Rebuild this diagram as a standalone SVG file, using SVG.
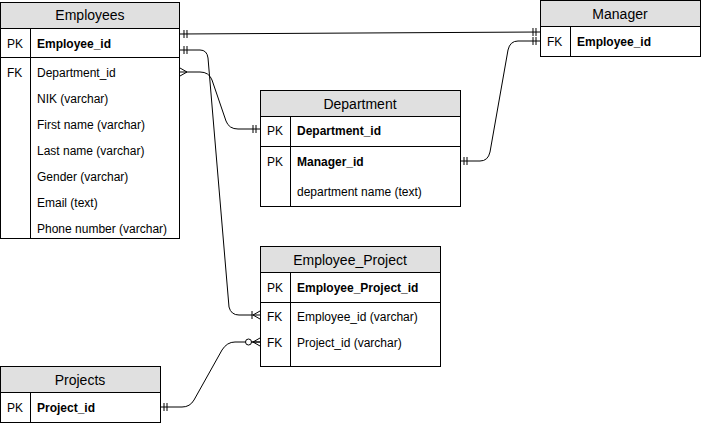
<svg xmlns="http://www.w3.org/2000/svg" width="701" height="423" viewBox="0 0 701 423">
<style>
.box{fill:#ffffff;stroke:#000;stroke-width:1}
.hdr{fill:#e0e0e0;stroke:#000;stroke-width:1}
.ln{stroke:#000;stroke-width:1;fill:none}
.t{font-family:"Liberation Sans",Arial,Helvetica,sans-serif;font-size:12px;fill:#000}
.b{font-weight:bold}
.title{font-family:"Liberation Sans",Arial,Helvetica,sans-serif;font-size:14px;fill:#000;text-anchor:middle}
.con{stroke:#000;stroke-width:1;fill:none}
</style>
<defs>
<marker id="one" markerUnits="userSpaceOnUse" markerWidth="20" markerHeight="20" viewBox="-15 -10 20 20" refX="0" refY="0" orient="auto-start-reverse">
<path d="M-4,-4 V4 M-7,-4 V4" stroke="#000" stroke-width="1" fill="none"/>
</marker>
<marker id="many" markerUnits="userSpaceOnUse" markerWidth="20" markerHeight="20" viewBox="-15 -10 20 20" refX="0" refY="0" orient="auto-start-reverse">
<path d="M-7,0 L0,-4 M-7,0 L0,4" stroke="#000" stroke-width="1" fill="none"/>
</marker>
<marker id="oneMany" markerUnits="userSpaceOnUse" markerWidth="20" markerHeight="20" viewBox="-15 -10 20 20" refX="0" refY="0" orient="auto-start-reverse">
<path d="M-7,0 L0,-4 M-7,0 L0,4 M-8,-4 V4" stroke="#000" stroke-width="1" fill="none"/>
</marker>
<marker id="zeroMany" markerUnits="userSpaceOnUse" markerWidth="20" markerHeight="20" viewBox="-18 -10 20 20" refX="0" refY="0" orient="auto-start-reverse">
<path d="M-8,0 L0,0 M-7,0 L0,-4 M-7,0 L0,4" stroke="#000" stroke-width="1" fill="none"/>
<circle cx="-11.5" cy="0" r="3" fill="#fff" stroke="#000" stroke-width="1"/>
</marker>
</defs>

<g id="connectors">
<path class="con" d="M180,34 L540,32" marker-start="url(#one)" marker-end="url(#one)"/>
<path class="con" d="M180,50 L200,50 Q207,50 208,58 L229,307 Q231,315 239,315 L260,315" marker-start="url(#one)" marker-end="url(#oneMany)"/>
<path class="con" d="M180,72 L200,72 Q209,72 212,80 L226,121 Q229,129 238,129 L260,129" marker-start="url(#many)" marker-end="url(#one)"/>
<path class="con" d="M460,161 L480,161 Q488,161 490,152 L508,50 Q510,41 518,41 L540,41" marker-start="url(#one)" marker-end="url(#one)"/>
<path class="con" d="M160,407 L182,407 Q190,407 194,400 L222,350 Q227,342 235,342 L260,342" marker-start="url(#one)" marker-end="url(#zeroMany)"/>
</g>

<g id="employees">
<rect class="box" x="0.5" y="2.5" width="179" height="236"/>
<rect class="hdr" x="0.5" y="2.5" width="179" height="26"/>
<line class="ln" x1="0.5" y1="57.5" x2="179.5" y2="57.5"/>
<line class="ln" x1="30.5" y1="28.5" x2="30.5" y2="238.5"/>
<text class="title" x="90" y="20">Employees</text>
<text class="t" x="7" y="48">PK</text>
<text class="t b" x="37" y="48">Employee_id</text>
<text class="t" x="7" y="77">FK</text>
<text class="t" x="37" y="77">Department_id</text>
<text class="t" x="37" y="103">NIK (varchar)</text>
<text class="t" x="37" y="129">First name (varchar)</text>
<text class="t" x="37" y="155">Last name (varchar)</text>
<text class="t" x="37" y="181">Gender (varchar)</text>
<text class="t" x="37" y="207">Email (text)</text>
<text class="t" x="37" y="233">Phone number (varchar)</text>
</g>

<g id="manager">
<rect class="box" x="540.5" y="0.5" width="160" height="56"/>
<rect class="hdr" x="540.5" y="0.5" width="160" height="26"/>
<line class="ln" x1="570.5" y1="26.5" x2="570.5" y2="56.5"/>
<text class="title" x="620" y="19">Manager</text>
<text class="t" x="547" y="46">FK</text>
<text class="t b" x="577" y="46">Employee_id</text>
</g>

<g id="department">
<rect class="box" x="260.5" y="90.5" width="200" height="116"/>
<rect class="hdr" x="260.5" y="90.5" width="200" height="26"/>
<line class="ln" x1="260.5" y1="146.5" x2="460.5" y2="146.5"/>
<line class="ln" x1="290.5" y1="116.5" x2="290.5" y2="206.5"/>
<text class="title" x="360" y="109">Department</text>
<text class="t" x="267" y="135">PK</text>
<text class="t b" x="297" y="135">Department_id</text>
<text class="t" x="267" y="166">PK</text>
<text class="t b" x="297" y="166">Manager_id</text>
<text class="t" x="297" y="196">department name (text)</text>
</g>

<g id="employee_project">
<rect class="box" x="260.5" y="246.5" width="180" height="120"/>
<rect class="hdr" x="260.5" y="246.5" width="180" height="26"/>
<line class="ln" x1="260.5" y1="302.5" x2="440.5" y2="302.5"/>
<line class="ln" x1="290.5" y1="272.5" x2="290.5" y2="366.5"/>
<text class="title" x="350" y="265">Employee_Project</text>
<text class="t" x="267" y="292">PK</text>
<text class="t b" x="297" y="292">Employee_Project_id</text>
<text class="t" x="267" y="321">FK</text>
<text class="t" x="297" y="321">Employee_id (varchar)</text>
<text class="t" x="267" y="347">FK</text>
<text class="t" x="297" y="347">Project_id (varchar)</text>
</g>

<g id="projects">
<rect class="box" x="0.5" y="366.5" width="160" height="56"/>
<rect class="hdr" x="0.5" y="366.5" width="160" height="26"/>
<line class="ln" x1="30.5" y1="392.5" x2="30.5" y2="422.5"/>
<text class="title" x="80" y="385">Projects</text>
<text class="t" x="7" y="412">PK</text>
<text class="t b" x="37" y="412">Project_id</text>
</g>
</svg>
